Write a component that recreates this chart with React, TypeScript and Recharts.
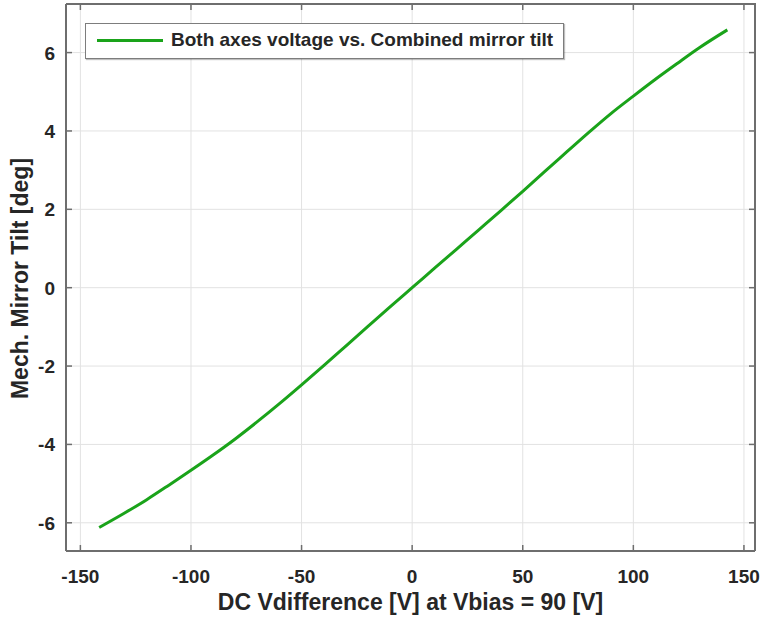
import React from 'react';
import { LineChart, Line, XAxis, YAxis, CartesianGrid, Legend } from 'recharts';

const voltage = [-141.5, -130, -120, -110, -100, -90, -80, -70, -60, -50, -40, -30, -20, -10, 0, 10, 20, 30, 40, 50, 60, 70, 80, 90, 100, 110, 120, 130, 142.5];
const tilt = [-6.12, -5.75, -5.41, -5.04, -4.66, -4.27, -3.86, -3.42, -2.96, -2.48, -1.99, -1.49, -0.99, -0.49, 0, 0.49, 0.98, 1.47, 1.96, 2.46, 2.97, 3.47, 3.97, 4.45, 4.89, 5.32, 5.73, 6.13, 6.58];
const xTicks = [-150, -100, -50, 0, 50, 100, 150];
const yTicks = [-6, -4, -2, 0, 2, 4, 6];
const xDomain = [-156.5, 155];
const yDomain = [-6.72, 7.24];
const seriesName = 'Both axes voltage vs. Combined mirror tilt';
const xLabel = 'DC Vdifference [V] at Vbias = 90 [V]';
const yLabel = 'Mech. Mirror Tilt [deg]';

const data = voltage.map((v, i) => ({ v, t: tilt[i] }));

const CHART_W = 760;
const CHART_H = 620;
const MARGIN = { top: 4, right: 5, left: 0, bottom: 0 };
const X_AXIS_H = 69;
const Y_AXIS_W = 66;
const PLOT_W = CHART_W - MARGIN.left - MARGIN.right - Y_AXIS_W;
const PLOT_H = CHART_H - MARGIN.top - MARGIN.bottom - X_AXIS_H;

const FONT = '"Liberation Sans", Arial, Helvetica, sans-serif';
const TXT = '#262626';
const AXIS = '#6e6e6e';
const GRID = '#e2e2e2';
const GREEN = '#1aa31a';
const TL = 6;

// bottom tick: label + inward tick at bottom and at the top edge of the box
const BottomTick = (p: any) => (
  <g>
    <line x1={p.x} y1={p.y} x2={p.x} y2={p.y - TL} stroke={AXIS} strokeWidth={1.5} />
    <line x1={p.x} y1={p.y - PLOT_H} x2={p.x} y2={p.y - PLOT_H + TL} stroke={AXIS} strokeWidth={1.5} />
    <text x={p.x} y={p.y + 32} textAnchor="middle" fontFamily={FONT} fontWeight="bold" fontSize={19} fill={TXT}>
      {p.payload.value}
    </text>
  </g>
);
// left tick: label + inward tick at left and at the right edge of the box
const LeftTick = (p: any) => (
  <g>
    <line x1={p.x} y1={p.y} x2={p.x + TL} y2={p.y} stroke={AXIS} strokeWidth={1.5} />
    <line x1={p.x + PLOT_W} y1={p.y} x2={p.x + PLOT_W - TL} y2={p.y} stroke={AXIS} strokeWidth={1.5} />
    <text x={p.x - 11} y={p.y + 7} textAnchor="end" fontFamily={FONT} fontWeight="bold" fontSize={19} fill={TXT}>
      {p.payload.value}
    </text>
  </g>
);

// x label, plus the top and right sides of the axes box
const XLabelContent = (p: any) => {
  const vb = p.viewBox;
  const left = vb.x;
  const right = vb.x + vb.width;
  const bottom = vb.y;
  const top = vb.y - PLOT_H;
  return (
    <g>
      <polyline points={`${left},${top} ${right},${top} ${right},${bottom}`} fill="none" stroke={AXIS} strokeWidth={2} />
      <text x={vb.x + vb.width / 2} y={vb.y + vb.height - 10} textAnchor="middle" fontFamily={FONT} fontWeight="bold" fontSize={23} fill={TXT}>
        {xLabel}
      </text>
    </g>
  );
};
const YLabelContent = (p: any) => {
  const vb = p.viewBox;
  const cx = vb.x + 20;
  const cy = vb.y + vb.height / 2 + 1;
  return (
    <text x={cx} y={cy} transform={`rotate(-90 ${cx} ${cy})`} textAnchor="middle" dominantBaseline="central" fontFamily={FONT} fontWeight="bold" fontSize={23} fill={TXT}>
      {yLabel}
    </text>
  );
};

const LegendContent = () => (
  <div
    style={{
      width: 479,
      height: 36,
      boxSizing: 'border-box',
      border: '1.5px solid #7d7d7d',
      background: '#fff',
      boxShadow: '1px 1px 1px rgba(0,0,0,0.25)',
      position: 'relative',
      fontFamily: FONT,
    }}
  >
    <svg width={80} height={33} style={{ position: 'absolute', left: 0, top: 0 }}>
      <line x1={11} y1={16.5} x2={77} y2={16.5} stroke={GREEN} strokeWidth={3} />
    </svg>
    <span
      style={{
        position: 'absolute',
        left: 85,
        top: 5,
        fontSize: 19,
        fontWeight: 'bold',
        color: TXT,
        whiteSpace: 'nowrap',
        lineHeight: '22px',
      }}
    >
      {seriesName}
    </span>
  </div>
);

export default function App() {
  return (
    <div style={{ position: 'absolute', left: 0, top: 0, width: CHART_W, height: CHART_H, background: '#fff' }}>
      <LineChart width={CHART_W} height={CHART_H} data={data} margin={MARGIN}>
        <CartesianGrid stroke={GRID} strokeWidth={1} horizontalValues={yTicks} verticalValues={xTicks} />
        <XAxis
          dataKey="v"
          type="number"
          domain={xDomain}
          ticks={xTicks}
          allowDataOverflow
          height={X_AXIS_H}
          tickSize={0}
          tickMargin={0}
          tickLine={false}
          axisLine={{ stroke: AXIS, strokeWidth: 2 }}
          tick={BottomTick}
          interval={0}
          label={{ content: XLabelContent }}
        />
        <YAxis
          type="number"
          domain={yDomain}
          ticks={yTicks}
          allowDataOverflow
          width={Y_AXIS_W}
          tickSize={0}
          tickMargin={0}
          tickLine={false}
          axisLine={{ stroke: AXIS, strokeWidth: 2 }}
          tick={LeftTick}
          interval={0}
          label={{ content: YLabelContent }}
        />
        <Legend
          layout="vertical"
          align="center"
          verticalAlign="middle"
          content={LegendContent}
          wrapperStyle={{ left: 85, top: 23, width: 479, height: 36 }}
        />
        <Line
          type="monotone"
          dataKey="t"
          name={seriesName}
          stroke={GREEN}
          strokeWidth={3}
          dot={false}
          isAnimationActive={false}
        />
      </LineChart>
    </div>
  );
}
